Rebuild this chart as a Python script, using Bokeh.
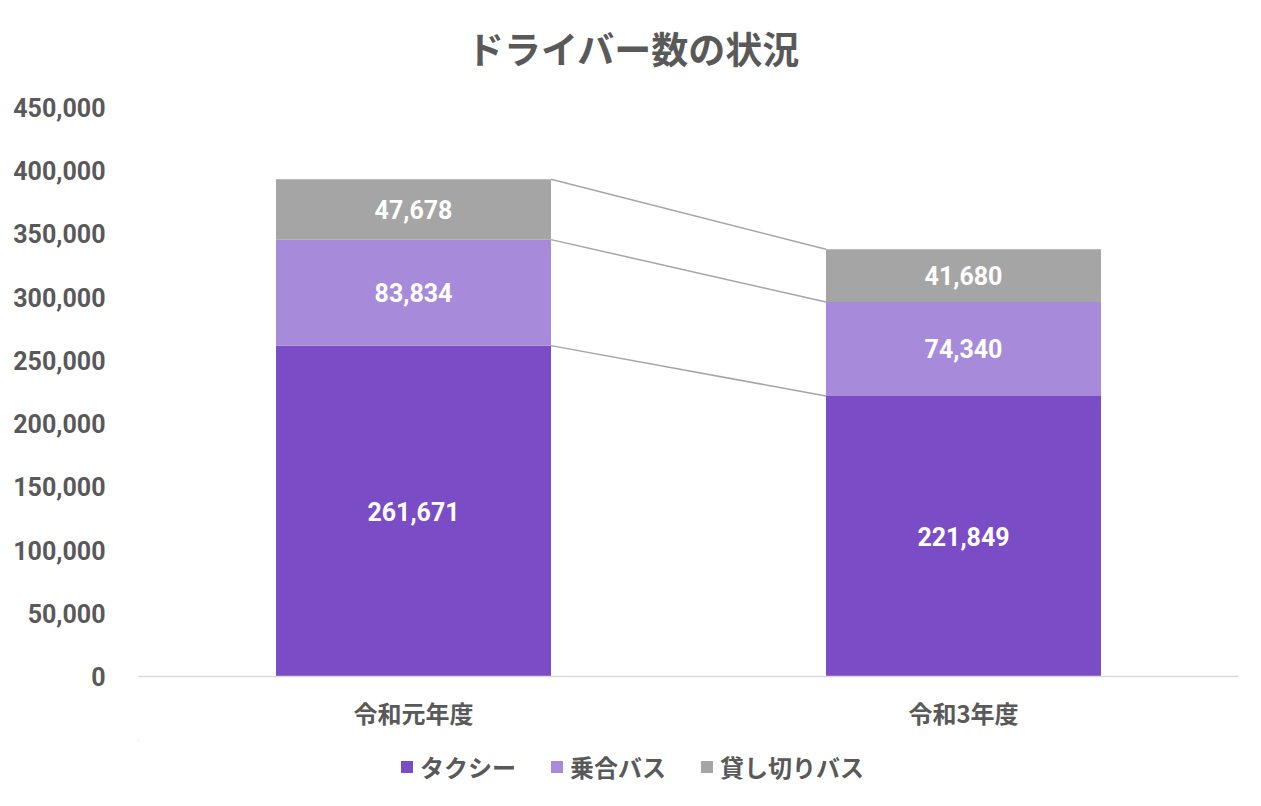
from bokeh.plotting import figure
from bokeh.layouts import column
from bokeh.models import (ColumnDataSource, Legend, LegendItem, FixedTicker,
                          NumeralTickFormatter, Range1d)
from bokeh.core.properties import value
from bokeh.embed import file_html
from bokeh.resources import INLINE

title_text = "ドライバー数の状況"
categories = ["令和元年度", "令和3年度"]
series_names = ["タクシー", "乗合バス", "貸し切りバス"]
taxi = [261671, 221849]
bus = [83834, 74340]
charter = [47678, 41680]
colors = ["#7A4CC5", "#A78BDA", "#A5A5A5"]
y_ticks = list(range(0, 450001, 50000))

TXT = "#595959"
JP = "Noto Sans CJK JP"
NUM = "Roboto"

xpos = [0.5 + i for i in range(len(categories))]
src = ColumnDataSource(dict(x=xpos, taxi=taxi, bus=bus, charter=charter))

# ---- title strip ----
tf = figure(frame_width=1100, frame_height=90, output_backend="svg", toolbar_location=None,
            x_range=Range1d(138, 1238), y_range=Range1d(0, 90),
            x_axis_location=None, y_axis_location=None,
            min_border_left=138, min_border_right=23, min_border_top=0,
            min_border_bottom=0, outline_line_color=None)
tf.xgrid.visible = False
tf.ygrid.visible = False
tf.text(x=[633], y=[43], text=[title_text], text_color=TXT, text_font=value(JP),
        text_font_size="37px", text_font_style="bold", text_align="center",
        text_baseline="middle")

# ---- main chart ----
p = figure(frame_width=1100, frame_height=569, output_backend="svg", toolbar_location=None,
           x_range=Range1d(0, len(categories)), y_range=Range1d(0, 450000),
           min_border_left=138, min_border_right=23, min_border_top=17,
           min_border_bottom=64, outline_line_color=None)

rs = p.vbar_stack(["taxi", "bus", "charter"], x="x", width=0.5, source=src,
                  color=colors, line_color=None)

# connector lines
tops_taxi = taxi
tops_bus = [a + b for a, b in zip(taxi, bus)]
tops_total = [a + b + c for a, b, c in zip(taxi, bus, charter)]
for tops in (tops_taxi, tops_bus, tops_total):
    p.segment(x0=[xpos[0] + 0.25], y0=[tops[0]], x1=[xpos[1] - 0.25], y1=[tops[1]],
              line_color="#A5A5A5", line_width=1.5)

# data labels
lx, ly, lt = [], [], []
for i in range(len(categories)):
    base = 0
    for vals in (taxi, bus, charter):
        lx.append(xpos[i]); ly.append(base + vals[i] / 2); lt.append(f"{vals[i]:,}")
        base += vals[i]
p.text(x=lx, y=ly, text=lt, text_color="white", text_font=value(NUM),
       text_font_size="25px", text_font_style="bold", text_align="center",
       text_baseline="middle")

p.xgrid.visible = False
p.ygrid.visible = False

p.yaxis.ticker = FixedTicker(ticks=y_ticks)
p.yaxis.formatter = NumeralTickFormatter(format="0,0")
p.yaxis.axis_line_color = None
p.yaxis.major_tick_line_color = None
p.yaxis.minor_tick_line_color = None
p.yaxis.major_label_standoff = 27
p.yaxis.major_label_text_font = NUM
p.yaxis.major_label_text_font_size = "25px"
p.yaxis.major_label_text_font_style = "bold"
p.yaxis.major_label_text_color = TXT

p.xaxis.ticker = FixedTicker(ticks=xpos)
p.xaxis.major_label_overrides = {x: c for x, c in zip(xpos, categories)}
p.xaxis.axis_line_color = "#D9D9D9"
p.xaxis.axis_line_width = 1.5
p.xaxis.major_tick_line_color = None
p.xaxis.minor_tick_line_color = None
p.xaxis.major_label_standoff = 12
p.xaxis.major_label_text_font = JP
p.xaxis.major_label_text_font_size = "24px"
p.xaxis.major_label_text_font_style = "bold"
p.xaxis.major_label_text_color = TXT

# ---- legend strip (same bars drawn far outside its visible ranges) ----
lg = figure(frame_width=1100, frame_height=66, output_backend="svg", toolbar_location=None,
            x_range=Range1d(100, 102), y_range=Range1d(-2e6, -1e6),
            x_axis_location=None, y_axis_location=None,
            min_border_left=138, min_border_right=23, min_border_top=0,
            min_border_bottom=0, outline_line_color=None)
lg.xgrid.visible = False
lg.ygrid.visible = False
lrs = lg.vbar_stack(["taxi", "bus", "charter"], x="x", width=0.5, source=src,
                    color=colors, line_color=None)
legend = Legend(items=[LegendItem(label=n, renderers=[r]) for n, r in zip(series_names, lrs)],
                orientation="horizontal", location=(261, 22),
                label_text_font=JP, label_text_font_size="24px",
                label_text_font_style="bold", label_text_color=TXT,
                glyph_width=15, glyph_height=15, spacing=33, label_standoff=6,
                border_line_color=None, background_fill_alpha=0, margin=0,
                padding=0)
lg.add_layout(legend, "center")

layout = column(tf, p, lg, spacing=0)
open("out.html", "w").write(file_html(layout, INLINE))
